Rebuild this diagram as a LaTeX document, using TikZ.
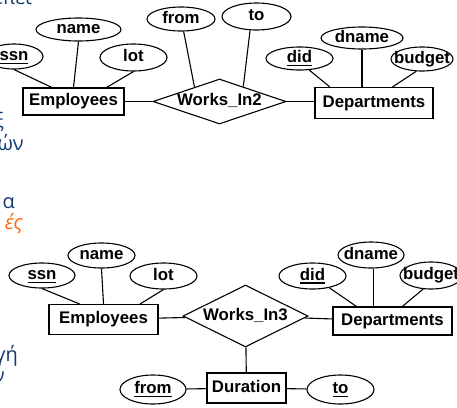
\documentclass[tikz,border=0pt]{standalone}
\usepackage{fontspec}
\usepackage{xcolor}
\usepackage{tikz}
\usetikzlibrary{shapes.geometric,positioning,calc}
\newfontfamily\erfont{Liberation Sans}
\newfontfamily\slidefont{Open Sans}
\definecolor{slideblue}{RGB}{20,58,112}
\definecolor{slideorange}{RGB}{255,102,0}
\newcommand{\pk}[1]{\setbox0\hbox{#1}\rlap{\rule[-3.4pt]{\wd0}{1.5pt}}\box0}

\begin{document}
\begin{tikzpicture}[x=1pt, y=-1pt,
  erbase/.style={draw, line width=1.1pt, text height=12pt, text depth=3.5pt,
    font=\erfont\bfseries\fontsize{16.8}{18}\selectfont},
  ent/.style={erbase, rectangle, inner sep=0pt},
  attr/.style={erbase, ellipse, inner xsep=-8pt, inner ysep=-3pt,
    minimum width=67pt, minimum height=25pt},
  rel/.style={erbase, diamond, inner sep=0pt},
  lnk/.style={line width=1.1pt},
  frag/.style={anchor=base east, inner sep=0pt, text=slideblue,
    font=\slidefont\fontsize{20}{24}\selectfont}]
\useasboundingbox (0,0) rectangle (457,407);
\clip (0,0) rectangle (457,407);

% slide text behind the diagrams
\node[frag] (g1) at (32,4) {έπει};
\node[frag] (g2) at (4,127) {ξ};
\node[frag] (g3) at (24,150) {ών};
\node[frag] (g4) at (15,208) {α};
\node[frag, text=slideorange, font=\slidefont\itshape\fontsize{20}{24}\selectfont] (g5) at (23,229) {ές};
\node[frag] (g6) at (18,361) {γή};
\node[frag] (g7) at (5,382) {ν};

% Works_In2
\node[ent, minimum width=101pt, minimum height=27pt] (emp) at (73.5,101.5) {Employees};
\node[rel, aspect=3, minimum width=133pt, minimum height=45pt] (w2) at (219.5,101.5) {Works\_In2};
\node[ent, minimum width=118pt, minimum height=31pt] (dep) at (374,103) {Departments};
\node[attr, minimum width=58pt] (ssn) at (14,56.5) {\pk{ssn}};
\node[attr, minimum width=85pt, minimum height=23pt] (name) at (78.5,29.5) {name};
\node[attr, minimum height=27pt] (lot) at (133.5,57.5) {lot};
\node[attr, minimum width=68pt, minimum height=24pt] (from) at (181,19) {from};
\node[attr, minimum width=69pt, minimum height=27pt] (to) at (256.5,16.5) {to};
\node[attr, minimum height=23pt] (did) at (299.5,58.5) {\pk{did}};
\node[attr, minimum width=82pt, minimum height=22pt] (dname) at (362,38) {dname};
\node[attr, minimum width=62pt, minimum height=24pt] (budget) at (422,59) {budget};
\draw[lnk] (ssn.south) -- (emp.147);
\draw[lnk] (name.south) -- (emp.north);
\draw[lnk] (lot.south) -- (emp.23);
\draw[lnk] (from.-78) -- (w2.150);
\draw[lnk] (to.-115) -- (w2.32);
\draw[lnk] (emp) -- (w2);
\draw[lnk] (w2.east) -- (w2.east -| dep.west);
\draw[lnk] (did.-50) -- (dep.160);
\draw[lnk] (dname.south) -- (dname.south |- dep.north);
\draw[lnk] (budget.-115) -- (dep.41);

% Works_In3
\node[ent, minimum width=109pt, minimum height=30pt] (emp3) at (103.5,319.5) {Employees};
\node[rel, aspect=2.2, minimum width=125pt, minimum height=62pt] (w3) at (245.5,316) {Works\_In3};
\node[ent, minimum width=119pt, minimum height=28pt] (dep3) at (392.5,321) {Departments};
\node[ent, minimum width=79pt, minimum height=30pt] (dur) at (246.5,388) {Duration};
\node[attr, minimum width=66pt] (ssn3) at (42,275.5) {\pk{ssn}};
\node[attr] (name3) at (101.5,255.5) {name};
\node[attr, minimum height=26pt] (lot3) at (163.5,276) {lot};
\node[attr, minimum height=26pt] (did3) at (312.5,276) {\pk{did}};
\node[attr, minimum width=66pt, minimum height=26pt] (dname3) at (371,255) {dname};
\node[attr, minimum width=62pt, minimum height=27pt] (budget3) at (431,275.5) {budget};
\node[attr, minimum width=66pt, minimum height=29pt] (from3) at (153,389.5) {\pk{from}};
\node[attr, minimum height=29pt] (to3) at (340.5,389.5) {\pk{to}};
\draw[lnk] (ssn3.south) -- (emp3.147);
\draw[lnk] (name3.south) -- (emp3.north);
\draw[lnk] (lot3.south) -- (emp3.23);
\draw[lnk] (emp3) -- (w3);
\draw[lnk] (w3) -- (dep3);
\draw[lnk] (did3.-35) -- (dep3.158);
\draw[lnk] (dname3.-80) -- (dname3.-80 |- dep3.north);
\draw[lnk] (budget3.-120) -- (dep3.56);
\draw[lnk] (w3) -- (dur);
\draw[lnk] (from3) -- (dur);
\draw[lnk] (dur) -- (to3);
\end{tikzpicture}
\end{document}
